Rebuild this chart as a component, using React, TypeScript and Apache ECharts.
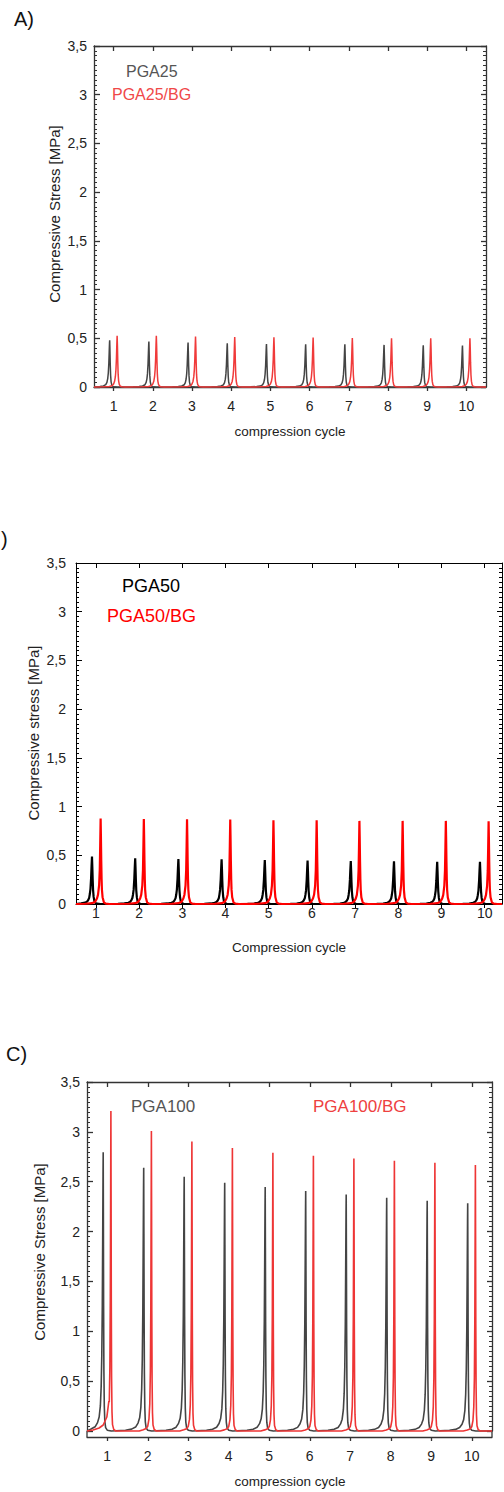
import React, { useEffect, useRef } from 'react';
import * as echarts from 'echarts';

const FONT = "'Liberation Sans', Arial, sans-serif";

// ---- tick labels ----
const cycleTicks = [1, 2, 3, 4, 5, 6, 7, 8, 9, 10];

// ---- Panel A (PGA25) ----
const aBlackX = [0.9, 1.9, 2.9, 3.9, 4.9, 5.9, 6.9, 7.9, 8.9, 9.9];
const aBlackY = [0.48, 0.466, 0.456, 0.449, 0.442, 0.439, 0.439, 0.432, 0.429, 0.425];
const aRedX = [1.09, 2.09, 3.09, 4.09, 5.09, 6.09, 7.09, 8.09, 9.09, 10.09];
const aRedY = [0.527, 0.527, 0.517, 0.514, 0.51, 0.507, 0.503, 0.5, 0.5, 0.5];
const aBlackShape = [[-0.4, 0.004], [-0.25, 0.01], [-0.16, 0.022], [-0.1, 0.05], [-0.07, 0.1], [-0.05, 0.18], [-0.035, 0.3], [-0.022, 0.5], [-0.012, 0.75], [-0.004, 0.95], [0, 1], [0.006, 0.8], [0.014, 0.5], [0.024, 0.25], [0.036, 0.11], [0.055, 0.04], [0.08, 0.012], [0.12, 0.003], [0.2, 0]];
const aRedShape = [[-0.35, 0.003], [-0.2, 0.01], [-0.13, 0.025], [-0.09, 0.06], [-0.065, 0.11], [-0.045, 0.2], [-0.03, 0.34], [-0.018, 0.55], [-0.008, 0.82], [0, 1], [0.008, 0.8], [0.016, 0.5], [0.026, 0.25], [0.038, 0.12], [0.055, 0.05], [0.08, 0.015], [0.12, 0.004], [0.2, 0]];

// ---- Panel B (PGA50) ----
const bBlackX = [0.91, 1.91, 2.91, 3.91, 4.91, 5.9, 6.9, 7.9, 8.9, 9.89];
const bBlackY = [0.486, 0.469, 0.462, 0.459, 0.452, 0.445, 0.442, 0.438, 0.432, 0.432];
const bRedX = [1.11, 2.11, 3.11, 4.11, 5.11, 6.11, 7.1, 8.1, 9.1, 10.09];
const bRedY = [0.877, 0.873, 0.87, 0.866, 0.86, 0.86, 0.853, 0.853, 0.853, 0.849];
const bBlackShape = [[-0.4, 0.005], [-0.25, 0.012], [-0.16, 0.028], [-0.12, 0.045], [-0.09, 0.08], [-0.065, 0.13], [-0.05, 0.21], [-0.035, 0.32], [-0.02, 0.56], [-0.01, 0.8], [0, 1], [0.008, 0.78], [0.016, 0.52], [0.025, 0.3], [0.038, 0.15], [0.055, 0.06], [0.08, 0.02], [0.12, 0.006], [0.2, 0]];
const bRedShape = [[-0.35, 0.003], [-0.2, 0.01], [-0.13, 0.025], [-0.085, 0.065], [-0.06, 0.11], [-0.035, 0.22], [-0.02, 0.4], [-0.01, 0.68], [0, 1], [0.006, 0.82], [0.014, 0.52], [0.022, 0.3], [0.03, 0.17], [0.045, 0.08], [0.075, 0.02], [0.12, 0.005], [0.2, 0]];

// ---- Panel C (PGA100) ----
const cBlackX = [0.9, 1.9, 2.9, 3.9, 4.9, 5.9, 6.9, 7.9, 8.9, 9.9];
const cBlackY = [2.796, 2.641, 2.55, 2.49, 2.446, 2.406, 2.372, 2.338, 2.31, 2.284];
const cRedX = [1.09, 2.09, 3.09, 4.09, 5.09, 6.09, 7.09, 8.09, 9.09, 10.09];
const cRedY = [3.21, 3.008, 2.904, 2.837, 2.79, 2.76, 2.732, 2.709, 2.689, 2.668];
const cBlackShape = [[-0.45, 0.003], [-0.3, 0.007], [-0.2, 0.015], [-0.14, 0.03], [-0.1, 0.05], [-0.07, 0.09], [-0.05, 0.16], [-0.035, 0.27], [-0.022, 0.45], [-0.012, 0.7], [-0.004, 0.92], [0, 1], [0.005, 0.75], [0.01, 0.45], [0.017, 0.22], [0.027, 0.09], [0.04, 0.035], [0.06, 0.012], [0.1, 0.003], [0.2, 0]];
const cRedShape = [[-0.3, 0], [-0.2, 0.004], [-0.13, 0.008], [-0.09, 0.016], [-0.06, 0.04], [-0.04, 0.09], [-0.025, 0.2], [-0.014, 0.42], [-0.006, 0.75], [0, 1], [0.005, 0.72], [0.01, 0.4], [0.017, 0.17], [0.027, 0.06], [0.04, 0.02], [0.07, 0.005], [0.12, 0]];
const cRedLead = [[0.5, 0], [0.65, 0.01], [0.8, 0.03], [0.9, 0.06], [0.99, 0.14], [1.04, 0.3]];

const xRanges = [
  [0.5, 10.5],
  [0.54, 10.4],
  [0.5, 10.5],
];

function buildLine(peaksX: number[], heights: number[], shape: number[][], xMin: number, xMax: number, lead?: number[][]) {
  const pts: number[][] = [];
  peaksX.forEach((px, i) => {
    let prof = shape.map(([dx, f]) => [px + dx, heights[i] * f]);
    if (i === 0 && lead) {
      const lastX = lead[lead.length - 1][0];
      prof = [...lead, ...prof.filter((p) => p[0] > lastX)];
    }
    pts.push(...prof);
  });
  const inRange = pts
    .filter((p) => p[0] >= xMin && p[0] <= xMax)
    .map((p) => [+p[0].toFixed(4), +p[1].toFixed(4)]);
  return [[xMin, 0], ...inRange, [xMax, 0]];
}

const grids = [
  { left: 94, top: 46, width: 392, height: 341 },
  { left: 76, top: 563, width: 426, height: 341 },
  { left: 87, top: 1082, width: 405, height: 349 },
];

const axisColors = ['#333', '#000', '#333'];
const xLabelMargins = [12, 2, 12];
const yLabelMargins = [7, 10, 7];
const xOffsets = [0, 0, 6];

function yFmt(v: number) {
  return String(v).replace('.', ',');
}

export default function App() {
  const ref = useRef<HTMLDivElement>(null);
  useEffect(() => {
    if (!ref.current) return;
    const chart = echarts.init(ref.current, undefined, { renderer: 'svg' });

    const xAxis: any[] = [];
    const yAxis: any[] = [];
    grids.forEach((g, i) => {
      const lc = { color: axisColors[i], width: i === 1 ? 1 : 1.3 };
      xAxis.push({
        type: 'value', gridIndex: i, position: 'bottom', min: xRanges[i][0], max: xRanges[i][1],
        offset: xOffsets[i],
        axisLine: { show: true, onZero: false, lineStyle: lc },
        axisTick: { show: true, inside: false, length: 4, customValues: cycleTicks, lineStyle: lc },
        axisLabel: { show: true, customValues: cycleTicks, margin: xLabelMargins[i], fontSize: 14, color: '#222', fontFamily: FONT },
        splitLine: { show: false },
      });
      xAxis.push({
        type: 'value', gridIndex: i, position: 'top', min: xRanges[i][0], max: xRanges[i][1],
        axisLine: { show: true, onZero: false, lineStyle: lc },
        axisTick: { show: true, inside: true, length: 5, customValues: cycleTicks, lineStyle: lc },
        axisLabel: { show: false },
        splitLine: { show: false },
      });
      yAxis.push({
        type: 'value', gridIndex: i, position: 'left', min: 0, max: 3.5, interval: 0.5,
        axisLine: { show: true, onZero: false, lineStyle: lc },
        axisTick: { show: true, inside: true, length: 6, lineStyle: lc },
        minorTick: { show: true, splitNumber: 10, length: 3, lineStyle: { color: axisColors[i], width: 1 } },
        axisLabel: { show: true, margin: yLabelMargins[i], fontSize: 14, color: '#222', fontFamily: FONT, formatter: yFmt },
        splitLine: { show: false },
        minorSplitLine: { show: false },
      });
      yAxis.push({
        type: 'value', gridIndex: i, position: 'right', min: 0, max: 3.5, interval: 0.5,
        axisLine: { show: true, onZero: false, lineStyle: lc },
        axisTick: { show: true, inside: true, length: 5, lineStyle: lc },
        minorTick: { show: true, splitNumber: 10, length: 3, lineStyle: { color: axisColors[i], width: 1 } },
        axisLabel: { show: false },
        splitLine: { show: false },
      });
    });

    const mk = (name: string, gi: number, data: number[][], color: string, width: number) => ({
      name, type: 'line', xAxisIndex: gi * 2, yAxisIndex: gi * 2, data,
      showSymbol: false, symbol: 'none', clip: false, smooth: false,
      lineStyle: { color, width }, itemStyle: { color },
    });

    const series = [
      mk('PGA25', 0, buildLine(aBlackX, aBlackY, aBlackShape, xRanges[0][0], xRanges[0][1]), '#444', 1.5),
      mk('PGA25/BG', 0, buildLine(aRedX, aRedY, aRedShape, xRanges[0][0], xRanges[0][1]), '#f03a3a', 1.5),
      mk('PGA50', 1, buildLine(bBlackX, bBlackY, bBlackShape, xRanges[1][0], xRanges[1][1]), '#000', 2.2),
      mk('PGA50/BG', 1, buildLine(bRedX, bRedY, bRedShape, xRanges[1][0], xRanges[1][1]), '#ff0000', 2.2),
      mk('PGA100', 2, buildLine(cBlackX, cBlackY, cBlackShape, xRanges[2][0], xRanges[2][1]), '#444', 1.6),
      mk('PGA100/BG', 2, buildLine(cRedX, cRedY, cRedShape, xRanges[2][0], xRanges[2][1], cRedLead), '#ee3535', 1.6),
    ];

    const txt = (text: string, x: number, y: number, size: number, fill: string, align = 'left', rotation = 0) => ({
      type: 'text', x, y, rotation, silent: true,
      style: {
        text, fill, fontSize: size, fontFamily: FONT,
        align, verticalAlign: 'middle', textAlign: align, textVerticalAlign: 'middle',
      },
    });

    const graphic = [
      txt('A)', 14, 19, 20, '#111'),
      txt(')', 1, 539, 20, '#111'),
      txt('C)', 6, 1054, 20, '#111'),
      txt('PGA25', 126, 71, 16, '#555'),
      txt('PGA25/BG', 112, 94, 16, '#f04848'),
      txt('PGA50', 122, 586, 18, '#000'),
      txt('PGA50/BG', 107, 616, 18, '#ff0000'),
      txt('PGA100', 131, 1106, 17, '#555'),
      txt('PGA100/BG', 313, 1106, 17, '#ee4040'),
      txt('Compressive Stress [MPa]', 54, 214, 15, '#222', 'center', Math.PI / 2),
      txt('Compressive stress [MPa]', 33, 733, 15, '#222', 'center', Math.PI / 2),
      txt('Compressive Stress [MPa]', 39, 1252, 15, '#222', 'center', Math.PI / 2),
      txt('compression cycle', 290, 431, 13.5, '#222', 'center'),
      txt('Compression cycle', 289, 947, 13.5, '#222', 'center'),
      txt('compression cycle', 290, 1481, 13.5, '#222', 'center'),
      { type: 'line', silent: true, shape: { x1: 87, y1: 1431, x2: 87, y2: 1437 }, style: { stroke: '#333', lineWidth: 1.3 } },
      { type: 'line', silent: true, shape: { x1: 492, y1: 1431, x2: 492, y2: 1437 }, style: { stroke: '#333', lineWidth: 1.3 } },
    ];

    chart.setOption({
      animation: false,
      backgroundColor: '#fff',
      grid: grids.map((g) => ({ ...g, containLabel: false })),
      xAxis,
      yAxis,
      series,
      graphic,
    });
    return () => chart.dispose();
  }, []);

  return (
    <div
      ref={ref}
      style={{ position: 'absolute', left: 0, top: 0, width: 504, height: 1492, background: '#fff' }}
    />
  );
}
